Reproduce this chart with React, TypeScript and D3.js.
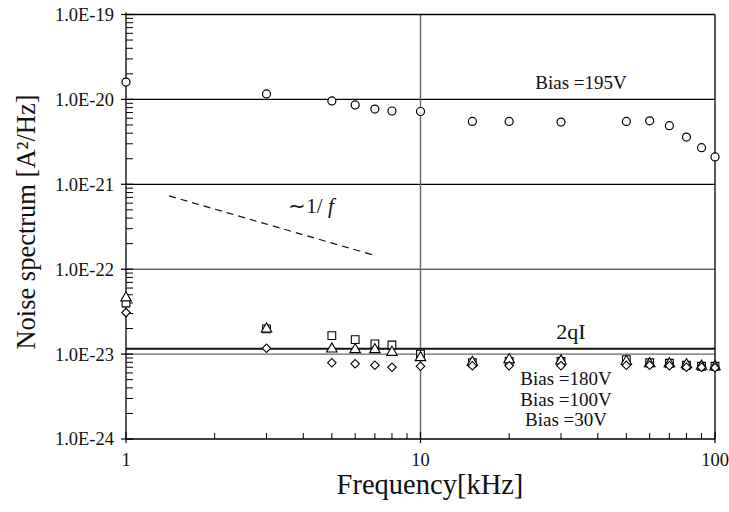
import React from "react";
import * as d3 from "d3";

const freqs = [1, 3, 5, 6, 7, 8, 10, 15, 20, 30, 50, 60, 70, 80, 90, 100];
const bias195 = [1.6e-20, 1.16e-20, 0.96e-20, 0.86e-20, 0.77e-20, 0.73e-20, 0.72e-20, 0.55e-20, 0.55e-20, 0.54e-20, 0.55e-20, 0.56e-20, 0.49e-20, 0.36e-20, 0.27e-20, 0.21e-20];
const bias180 = [4.0e-23, 1.98e-23, 1.65e-23, 1.48e-23, 1.32e-23, 1.28e-23, 1.0e-23, 0.79e-23, 0.82e-23, 0.82e-23, 0.86e-23, 0.79e-23, 0.78e-23, 0.74e-23, 0.72e-23, 0.72e-23];
const bias100 = [4.6e-23, 1.98e-23, 1.15e-23, 1.13e-23, 1.13e-23, 1.05e-23, 0.91e-23, 0.8e-23, 0.86e-23, 0.83e-23, 0.82e-23, 0.77e-23, 0.77e-23, 0.75e-23, 0.72e-23, 0.71e-23];
const bias30 = [3.08e-23, 1.17e-23, 0.79e-23, 0.77e-23, 0.74e-23, 0.7e-23, 0.72e-23, 0.73e-23, 0.73e-23, 0.73e-23, 0.74e-23, 0.74e-23, 0.73e-23, 0.7e-23, 0.7e-23, 0.69e-23];
const shotNoise2qI = 1.16e-23;
const oneOverF = [
  [1.4, 7.3e-22],
  [7.0, 1.45e-22],
];
const yTickValues = [1e-19, 1e-20, 1e-21, 1e-22, 1e-23, 1e-24];
const yTickLabels = ["1.0E-19", "1.0E-20", "1.0E-21", "1.0E-22", "1.0E-23", "1.0E-24"];
const xTickValues = [1, 10, 100];
const xTickLabels = ["1", "10", "100"];
const lowLabels = ["Bias =180V", "Bias =100V", "Bias =30V"];

const W = 729;
const H = 512;
const L = 126;
const R = 715;
const T = 14.5;
const B = 439;
const FONT = "'Liberation Serif', 'Times New Roman', serif";

export default function App() {
  const x = d3.scaleLog().domain([1, 100]).range([L, R]);
  const y = d3.scaleLog().domain([1e-24, 1e-19]).range([B, T]);

  const minorY: number[] = [];
  for (let e = -24; e < -19; e++) for (let m = 2; m <= 9; m++) minorY.push(m * Math.pow(10, e));
  const minorX: number[] = [];
  for (let e = 0; e < 2; e++) for (let m = 2; m <= 9; m++) minorX.push(m * Math.pow(10, e));

  const dashed = d3.line<number[]>().x((d) => x(d[0])).y((d) => y(d[1]))(oneOverF) || "";

  const tri = d3.symbol().type(d3.symbolTriangle).size(48)() || "";
  const sq = d3.symbol().type(d3.symbolSquare).size(60)() || "";
  const dia = d3.symbol().type(d3.symbolSquare).size(36)() || "";

  return (
    <svg width={W} height={H} style={{ position: "absolute", left: 0, top: 0, background: "#fff" }} fontFamily={FONT}>
      <rect x={0} y={0} width={W} height={H} fill="#fff" />
      {/* grid lines */}
      {yTickValues.slice(1, 5).map((v, i) => (
        <line key={"gy" + i} x1={L} x2={R} y1={y(v)} y2={y(v)} stroke={i >= 2 ? "#666" : "#000"} strokeWidth={i >= 2 ? 1.4 : 1.2} />
      ))}
      <line x1={x(10)} x2={x(10)} y1={T} y2={B} stroke="#666" strokeWidth={1.4} />
      {/* 2qI line */}
      <line x1={L} x2={R} y1={y(shotNoise2qI)} y2={y(shotNoise2qI)} stroke="#111" strokeWidth={2} />
      {/* frame */}
      <line x1={L} x2={R} y1={T} y2={T} stroke="#000" strokeWidth={1.3} />
      <line x1={R} x2={R} y1={T} y2={B} stroke="#000" strokeWidth={1.3} />
      <line x1={L} x2={R} y1={B} y2={B} stroke="#000" strokeWidth={1.3} />
      <line x1={L} x2={L} y1={T - 2} y2={B} stroke="#000" strokeWidth={1.3} />
      {/* y ticks */}
      {minorY.map((v, i) => (
        <line key={"my" + i} x1={L} x2={L + 7} y1={y(v)} y2={y(v)} stroke="#000" strokeWidth={1} />
      ))}
      {yTickValues.map((v, i) => (
        <g key={"ty" + i}>
          <line x1={L - 5} x2={L + 7} y1={y(v)} y2={y(v)} stroke="#000" strokeWidth={1.2} />
          <text x={L - 12} y={y(v)} dy="0.35em" textAnchor="end" fontSize={18.5} fill="#111">
            {yTickLabels[i]}
          </text>
        </g>
      ))}
      {/* x ticks */}
      {minorX.map((v, i) => (
        <line key={"mx" + i} x1={x(v)} x2={x(v)} y1={B} y2={B - 6} stroke="#000" strokeWidth={1} />
      ))}
      {xTickValues.map((v, i) => (
        <g key={"tx" + i}>
          <line x1={x(v)} x2={x(v)} y1={B + 4} y2={B - 7} stroke="#000" strokeWidth={1.2} />
          <text x={x(v)} y={466} textAnchor="middle" fontSize={18.5} fill="#111">
            {xTickLabels[i]}
          </text>
        </g>
      ))}
      {/* 1/f dashed line */}
      <path d={dashed} fill="none" stroke="#111" strokeWidth={1.2} strokeDasharray="7,5" />
      <text x={311} y={213} textAnchor="middle" fontSize={21} fill="#111">
        ∼1/ <tspan fontStyle="italic">f</tspan>
      </text>
      {/* markers */}
      {freqs.map((f, i) => (
        <circle key={"c" + i} cx={x(f)} cy={y(bias195[i])} r={4} fill="#fff" stroke="#000" strokeWidth={1.2} />
      ))}
      {freqs.map((f, i) => (
        <path key={"s" + i} d={sq} transform={`translate(${x(f)},${y(bias180[i])})`} fill="#fff" stroke="#000" strokeWidth={1.1} />
      ))}
      {freqs.map((f, i) => (
        <path key={"t" + i} d={tri} transform={`translate(${x(f)},${y(bias100[i])})`} fill="#fff" stroke="#000" strokeWidth={1.1} />
      ))}
      {freqs.map((f, i) => (
        <path key={"d" + i} d={dia} transform={`translate(${x(f)},${y(bias30[i])}) rotate(45)`} fill="#fff" stroke="#000" strokeWidth={1.1} />
      ))}
      {/* annotations */}
      <text x={581} y={89} textAnchor="middle" fontSize={19} fill="#111">Bias =195V</text>
      <text x={571} y={339} textAnchor="middle" fontSize={22} fill="#111">2qI</text>
      {lowLabels.map((t, i) => (
        <text key={"ll" + i} x={566} y={385 + i * 20.5} textAnchor="middle" fontSize={19} fill="#111">
          {t}
        </text>
      ))}
      {/* axis titles */}
      <text x={430} y={494} textAnchor="middle" fontSize={28.5} fill="#111">Frequency[kHz]</text>
      <text transform={`translate(35,222) rotate(-90)`} textAnchor="middle" fontSize={26.5} fill="#111">
        Noise spectrum [A²/Hz]
      </text>
    </svg>
  );
}
